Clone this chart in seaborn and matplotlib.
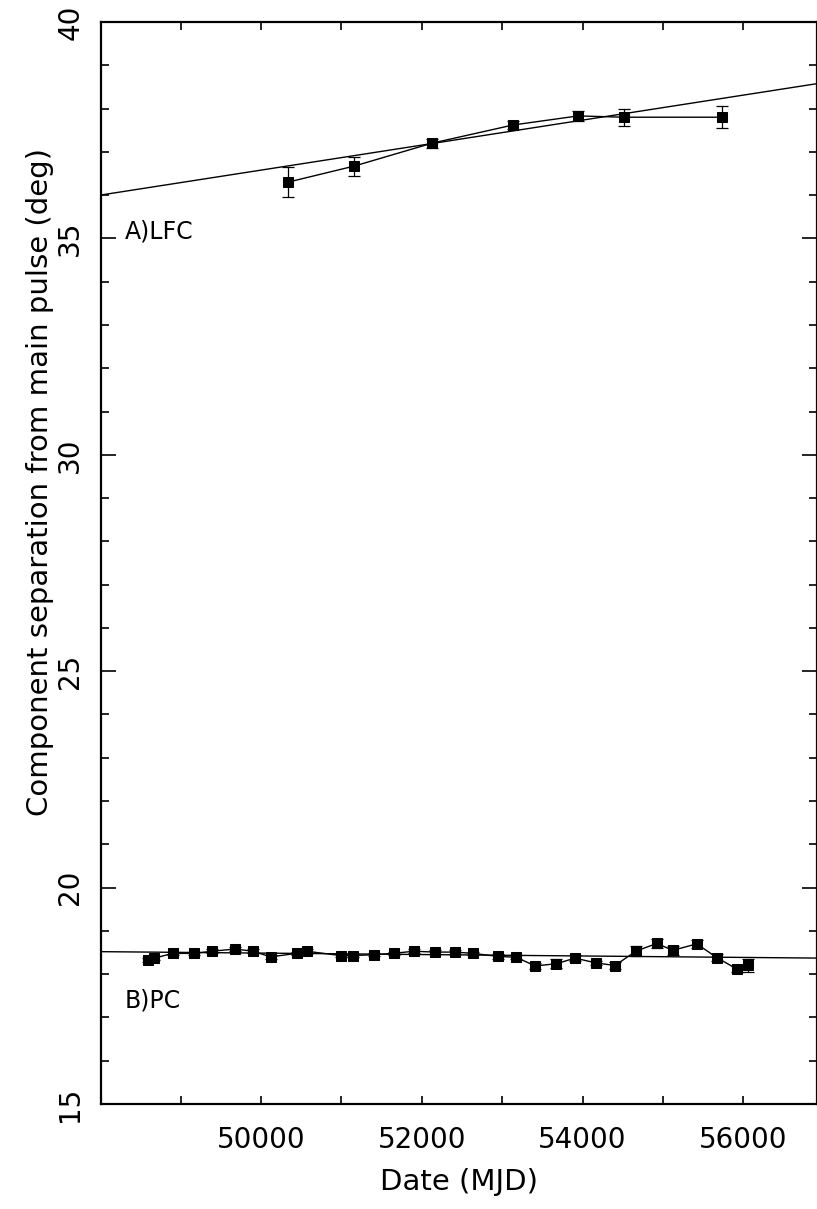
import numpy as np
import matplotlib
matplotlib.use("Agg")
import matplotlib.pyplot as plt
import matplotlib.ticker as mticker
import pandas as pd
import seaborn as sns

# ---- data ----
# A) LFC component
lfc_mjd = [50336, 51157, 52127, 53134, 53943, 54515, 55734]
lfc_sep = [36.30, 36.67, 37.20, 37.62, 37.83, 37.80, 37.80]
lfc_err = [0.35, 0.22, 0.10, 0.10, 0.12, 0.20, 0.25]

# B) PC component
pc_mjd = [48598, 48673, 48902, 49167, 49391, 49677, 49897, 50121,
          50444, 50568, 50991, 51148, 51405, 51650, 51899, 52164,
          52413, 52633, 52952, 53172, 53412, 53669, 53906, 54167,
          54403, 54661, 54922, 55121, 55419, 55672, 55917, 56057]
pc_sep = [18.33, 18.37, 18.48, 18.48, 18.53, 18.58, 18.53, 18.40,
          18.48, 18.53, 18.43, 18.43, 18.45, 18.48, 18.53, 18.51,
          18.51, 18.48, 18.41, 18.39, 18.19, 18.24, 18.37, 18.26,
          18.20, 18.53, 18.71, 18.55, 18.70, 18.38, 18.12, 18.21]
pc_err = [0.04, 0.04, 0.04, 0.04, 0.04, 0.04, 0.04, 0.04,
          0.04, 0.04, 0.04, 0.04, 0.04, 0.04, 0.04, 0.04,
          0.04, 0.04, 0.05, 0.05, 0.07, 0.10, 0.07, 0.05,
          0.08, 0.12, 0.10, 0.10, 0.10, 0.08, 0.08, 0.15]

# linear fits: (value at 48000, value at 57000)
lfc_fit = (36.00, 38.60)
pc_fit = (18.52, 18.37)
fit_ref = (48000, 57000)

x_lim = (48010, 56915)
y_lim = (15, 40)

# ---- plot ----
sns.set_style("ticks")
plt.rcParams['font.family'] = ['DejaVu Sans']
plt.rcParams['text.color'] = 'black'
plt.rcParams['axes.labelcolor'] = 'black'

fig = plt.figure(figsize=(8.17, 12.09), dpi=100)
ax = fig.add_axes([101 / 817, 1 - 1104 / 1209, 716 / 817, 1082 / 1209])

for fit in (lfc_fit, pc_fit):
    fit_df = pd.DataFrame({"mjd": list(fit_ref), "sep": list(fit)})
    sns.lineplot(data=fit_df, x="mjd", y="sep", color="black", lw=1.0, ax=ax)

for mjd, sep, err in ((lfc_mjd, lfc_sep, lfc_err), (pc_mjd, pc_sep, pc_err)):
    df = pd.DataFrame({"mjd": mjd, "sep": sep})
    sns.lineplot(data=df, x="mjd", y="sep", color="black", lw=1.0,
                 marker="s", markersize=7, markeredgecolor="black", ax=ax)
    ax.errorbar(mjd, sep, yerr=err, fmt="none", ecolor="black",
                elinewidth=0.9, capsize=4, capthick=0.9)

ax.set_xlim(x_lim)
ax.set_ylim(y_lim)

ax.text(48300, 35.17, "A)LFC", fontsize=17, va="center", ha="left", color="black")
ax.text(48300, 17.40, "B)PC", fontsize=17, va="center", ha="left", color="black")

ax.xaxis.set_major_locator(mticker.MultipleLocator(2000))
ax.xaxis.set_minor_locator(mticker.MultipleLocator(1000))
ax.yaxis.set_major_locator(mticker.MultipleLocator(5))
ax.yaxis.set_minor_locator(mticker.MultipleLocator(1))

ax.tick_params(axis="both", which="both", direction="in", top=True, right=True,
               width=1.2, colors="black", labelcolor="black")
ax.tick_params(axis="x", which="both", length=6)
ax.tick_params(axis="y", which="major", length=11)
ax.tick_params(axis="y", which="minor", length=6)
ax.tick_params(axis="x", labelsize=20, pad=16)
ax.tick_params(axis="y", labelsize=20, pad=12)
for lab in ax.get_yticklabels():
    lab.set_rotation(90)
    lab.set_va("center")

for sp in ax.spines.values():
    sp.set_linewidth(1.6)
    sp.set_color("black")

ax.set_xlabel("Date (MJD)", fontsize=21, labelpad=10)
ax.set_ylabel("Component separation from main pulse (deg)", fontsize=21)
ax.yaxis.set_label_coords(-0.066, 0.575)

fig.savefig("out.png", dpi=100)
